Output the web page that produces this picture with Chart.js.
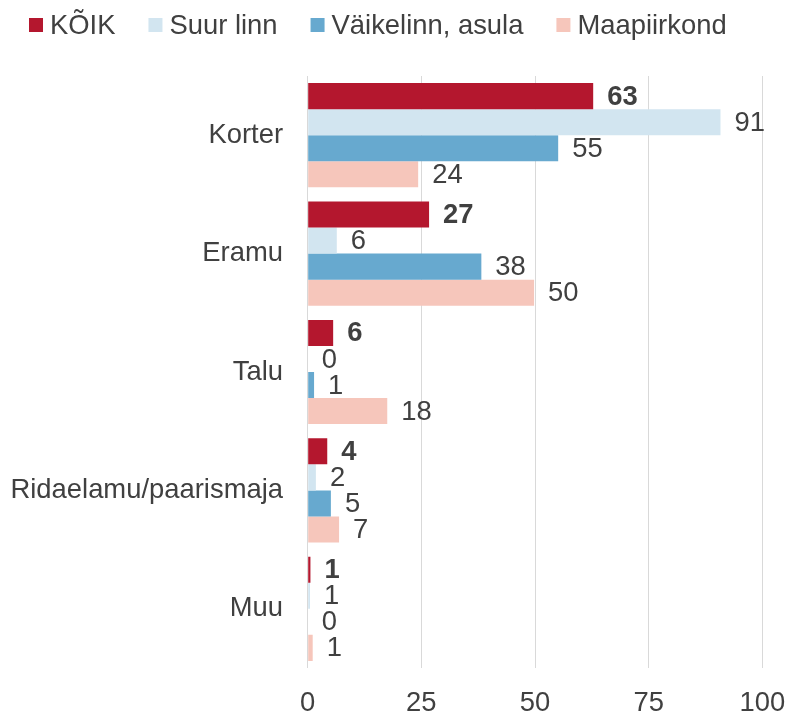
<!DOCTYPE html>
<html>
<head>
<meta charset="utf-8">
<script src="https://cdn.jsdelivr.net/npm/chart.js@4.4.1/dist/chart.umd.min.js"></script>
<style>
  html, body { margin: 0; padding: 0; background: #fff; }
  #wrap { width: 788px; height: 713px; }
</style>
</head>
<body>
<div id="wrap"><canvas id="houseChart" width="788" height="713"></canvas></div>
<script>
const categories = ["Korter", "Eramu", "Talu", "Ridaelamu/paarismaja", "Muu"];
const seriesNames = ["KÕIK", "Suur linn", "Väikelinn, asula", "Maapiirkond"];
const koik = [62.8, 26.7, 5.6, 4.3, 0.6];
const suurLinn = [90.8, 6.4, 0, 1.8, 0.5];
const vaikelinn = [55.1, 38.2, 1.4, 5.1, 0];
const maapiirkond = [24.3, 49.8, 17.5, 6.9, 1.1];
const xTicks = [0, 25, 50, 75, 100];

const colors = ["#B4172E", "#D2E5F0", "#67A9CF", "#F6C6BB"];
const textColor = "#404040";
const fontFamily = "'Liberation Sans', Arial, sans-serif";
const fontSize = 27.4;

// value labels right of each bar, first series in bold
const valueLabels = {
  id: "valueLabels",
  afterDatasetsDraw(chart) {
    const ctx = chart.ctx;
    ctx.save();
    ctx.fillStyle = textColor;
    ctx.textAlign = "left";
    ctx.textBaseline = "middle";
    chart.data.datasets.forEach((ds, i) => {
      const meta = chart.getDatasetMeta(i);
      ctx.font = (i === 0 ? "bold " : "") + fontSize + "px " + fontFamily;
      meta.data.forEach((bar, j) => {
        ctx.fillText(String(Math.round(ds.data[j])), bar.x + 14, bar.y + 1);
      });
    });
    ctx.restore();
  },
};

// legend drawn by hand so the spacing matches the original
const topLegend = {
  id: "topLegend",
  afterDraw(chart) {
    const ctx = chart.ctx;
    ctx.save();
    ctx.font = fontSize + "px " + fontFamily;
    ctx.textBaseline = "middle";
    ctx.textAlign = "left";
    let x = 29;
    seriesNames.forEach((name, i) => {
      ctx.fillStyle = colors[i];
      ctx.fillRect(x, 18, 14, 14);
      ctx.fillStyle = textColor;
      ctx.fillText(name, x + 21, 26);
      x += 21 + ctx.measureText(name).width + 33;
    });
    ctx.restore();
  },
};

const ctx = document.getElementById("houseChart").getContext("2d");
const houseChart = new Chart(ctx, {
  type: "bar",
  data: {
    labels: categories,
    datasets: [koik, suurLinn, vaikelinn, maapiirkond].map((vals, i) => ({
      label: seriesNames[i],
      data: vals,
      backgroundColor: colors[i],
      borderWidth: 0,
      categoryPercentage: 0.88,
      barPercentage: 1,
    })),
  },
  options: {
    indexAxis: "y",
    responsive: false,
    animation: false,
    layout: { padding: { top: 76, right: 25.7, left: 0, bottom: 0 } },
    scales: {
      x: {
        min: 0,
        max: 100,
        afterBuildTicks: (scale) => {
          scale.ticks = xTicks.map((v) => ({ value: v }));
        },
        afterFit: (scale) => {
          scale.height = 45;
          scale.paddingLeft = 0;
          scale.paddingRight = 0;
        },
        grid: { color: "#D9D9D9", lineWidth: 1, drawTicks: false },
        border: { display: false },
        ticks: {
          padding: 19,
          color: textColor,
          font: { family: fontFamily, size: fontSize },
        },
      },
      y: {
        afterFit: (scale) => {
          scale.width = 307.7;
        },
        grid: { display: false, drawTicks: false },
        border: { display: false },
        ticks: {
          padding: 24.7,
          color: textColor,
          font: { family: fontFamily, size: fontSize },
        },
      },
    },
    plugins: {
      legend: { display: false },
      tooltip: { enabled: false },
    },
  },
  plugins: [valueLabels, topLegend],
});
</script>
</body>
</html>
